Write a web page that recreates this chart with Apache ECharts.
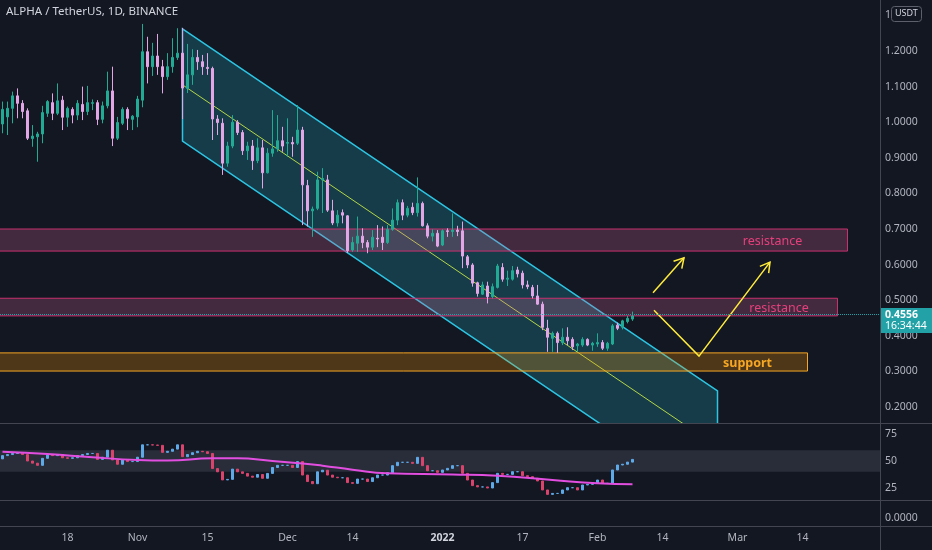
<!DOCTYPE html>
<html>
<head>
<meta charset="utf-8">
<script src="https://cdn.jsdelivr.net/npm/echarts@6/dist/echarts.min.js"></script>
<style>
html, body { margin: 0; padding: 0; background: #131722; }
#chart { width: 932px; height: 550px; }
</style>
</head>
<body>
<div id="chart"></div>
<script>
// daily candles, day 0 = 2021-10-05, one candle per day
var firstDay = 0;
var opens = [
  0.995,1.015,1.039,1.074,1.053,1.032,0.954,0.959,0.967,1.025,
  1.055,1.025,1.062,1.014,1.036,1.020,1.050,1.030,1.053,1.055,
  1.008,1.046,1.088,0.955,0.997,1.036,1.008,1.015,1.062,1.198,
  1.156,1.186,1.156,1.128,1.156,1.182,1.194,1.095,1.133,1.182,
  1.170,1.154,1.151,1.009,0.997,0.885,0.933,1.000,0.971,0.920,
  0.933,0.892,0.928,0.858,0.913,0.925,0.948,0.941,0.943,0.941,
  0.978,0.822,0.751,0.758,0.838,0.838,0.751,0.717,0.746,0.737,
  0.641,0.660,0.680,0.662,0.649,0.674,0.677,0.662,0.699,0.725,
  0.774,0.739,0.761,0.746,0.772,0.709,0.680,0.688,0.655,0.695,
  0.693,0.697,0.695,0.622,0.599,0.549,0.517,0.540,0.510,0.536,
  0.592,0.559,0.559,0.585,0.576,0.543,0.536,0.512,0.489,0.421,
  0.393,0.407,0.381,0.396,0.390,0.372,0.374,0.390,0.374,0.377,
  0.381,0.365,0.377,0.430,0.424,0.440,0.447
];
var closes = [
  1.036,1.039,1.074,1.053,1.030,0.955,0.961,0.967,1.027,1.058,
  1.025,1.060,1.014,1.039,1.020,1.053,1.030,1.055,1.055,1.008,
  1.046,1.088,0.955,0.999,1.036,1.011,1.017,1.065,1.198,1.156,
  1.186,1.156,1.128,1.156,1.182,1.194,1.096,1.133,1.182,1.170,
  1.156,1.151,1.009,0.999,0.885,0.933,1.000,0.971,0.920,0.933,
  0.892,0.928,0.858,0.913,0.925,0.948,0.933,0.943,0.939,0.978,
  0.824,0.751,0.756,0.838,0.842,0.753,0.717,0.739,0.739,0.639,
  0.662,0.680,0.662,0.649,0.677,0.672,0.662,0.699,0.725,0.774,
  0.739,0.758,0.746,0.772,0.709,0.680,0.688,0.652,0.695,0.693,
  0.697,0.693,0.624,0.599,0.548,0.519,0.543,0.510,0.538,0.596,
  0.559,0.562,0.583,0.574,0.543,0.538,0.512,0.489,0.424,0.396,
  0.407,0.381,0.396,0.386,0.369,0.377,0.390,0.374,0.379,0.381,
  0.365,0.379,0.428,0.421,0.442,0.449,0.4556
];
var lows = [
  0.969,0.964,0.997,1.011,1.011,0.950,0.931,0.889,0.941,1.015,
  1.006,1.020,0.978,0.987,0.997,1.006,1.006,1.020,1.034,0.992,
  0.997,1.039,0.933,0.950,0.992,0.978,0.978,0.986,1.042,1.109,
  1.130,1.133,1.081,1.119,1.139,1.175,1.009,1.082,1.105,1.147,
  1.133,1.133,0.950,0.964,0.852,0.875,0.927,0.964,0.908,0.894,
  0.866,0.885,0.814,0.856,0.903,0.917,0.917,0.903,0.903,0.936,
  0.711,0.707,0.678,0.753,0.745,0.748,0.711,0.707,0.716,0.633,
  0.636,0.636,0.646,0.632,0.641,0.649,0.641,0.658,0.695,0.711,
  0.725,0.733,0.739,0.735,0.707,0.674,0.665,0.649,0.652,0.678,
  0.678,0.680,0.590,0.590,0.538,0.510,0.515,0.491,0.505,0.533,
  0.552,0.540,0.555,0.564,0.533,0.531,0.505,0.487,0.416,0.355,
  0.355,0.352,0.374,0.374,0.360,0.355,0.369,0.371,0.358,0.369,
  0.360,0.358,0.374,0.416,0.418,0.435,0.442
];
var highs = [
  1.058,1.058,1.086,1.095,1.062,1.039,0.992,0.973,1.046,1.062,
  1.081,1.109,1.074,1.044,1.042,1.062,1.100,1.102,1.064,1.062,
  1.058,1.142,1.156,1.015,1.042,1.042,1.020,1.074,1.276,1.240,
  1.223,1.248,1.175,1.194,1.236,1.264,1.265,1.220,1.205,1.203,
  1.189,1.194,1.156,1.020,1.011,0.945,1.020,1.006,0.978,0.945,
  0.950,0.955,0.950,0.927,1.034,1.020,0.987,1.011,0.959,1.048,
  0.987,0.838,0.763,0.861,0.871,0.852,0.782,0.753,0.755,0.739,
  0.678,0.735,0.702,0.669,0.697,0.711,0.707,0.711,0.758,0.783,
  0.783,0.765,0.774,0.845,0.777,0.716,0.699,0.697,0.699,0.702,
  0.744,0.709,0.721,0.627,0.604,0.552,0.552,0.552,0.547,0.602,
  0.604,0.583,0.596,0.594,0.583,0.555,0.543,0.543,0.496,0.445,
  0.412,0.412,0.421,0.424,0.396,0.380,0.396,0.393,0.383,0.407,
  0.388,0.383,0.433,0.437,0.445,0.456,0.468
];

// RSI pane: closing value of each day, the bar opens at the previous close
var rsiFirstOpen = 52;
var rsiCloses = [
  55,56,57,57.5,56,50,48,46,52.5,55.5,
  55,56,53,52.5,53,55,56,57,57,51.5,
  53.5,60,51,47,51,49.5,49.5,53.5,65,65,
  64.8,64.5,58,59,61,65,54,56,57.7,59,
  58.6,57,43,40,32.5,33,42.5,40,38.5,36,
  35,37.5,34,38.5,44,46,46,46,44,49.5,
  37,31,29,40,41.5,37,35,34.5,34.5,30,
  29.3,33.3,33.3,31,34.5,37,37,39.2,45.7,48.8,
  48.8,48.8,47.8,53.4,45.7,41,41,39.5,41.7,43.2,
  45.7,45.7,38.6,32.4,27.2,26,26,25,30,38.6,
  37.6,37.6,40.1,40.1,36.4,35.5,34,31.5,23.2,19.1,
  20,20,23.2,25.3,25.3,23.2,27.8,28.4,29.3,32.4,
  29.3,29.3,41.7,46.3,47,49,51.5
];
// moving average of the RSI, read at a few days
var maDays   = [0, 9, 18, 27, 33, 42, 47, 54, 60, 64, 70, 77, 90, 99, 110, 119, 126];
var maValues = [58.6, 56.5, 53.5, 51, 50.5, 52.5, 52.5, 50, 47.8, 45.7, 42, 38.6, 37.6, 36.4, 32.4, 29.3, 28.4];
var rsiBandLow = 40, rsiBandHigh = 60;

// axis ticks
var tickDays   = [13, 27, 41, 57, 70, 88, 104, 119, 132, 147, 160];
var tickLabels = ['18', 'Nov', '15', 'Dec', '14', '2022', '17', 'Feb', '14', 'Mar', '14'];
var priceTicks = [0.2, 0.3, 0.4, 0.5, 0.6, 0.7, 0.8, 0.9, 1.0, 1.1, 1.2, 1.3];
var rsiTicks = [25, 50, 75];
var lastPrice = 0.4556;
var lastTime = '16:34:44';

// drawings: parallel channel
var chanDays = [36, 143];
var chanTop  = [1.262, 0.245];
var chanMid  = [1.105, 0.088];
var chanBot  = [0.947, -0.070];

// drawings: rectangles
var boxNames    = ['resistance', 'resistance', 'support'];
var boxFrom     = [-2, -2, -2];
var boxTo       = [169, 167, 161];
var boxHigh     = [0.700, 0.5055, 0.352];
var boxLow      = [0.638, 0.456, 0.301];
var boxLabelDay = [154, 155.3, 149];

// drawings: arrows
var arrowDays   = [[130.1, 136.3], [130.3, 139.3, 153.5]];
var arrowPrices = [[0.521, 0.619], [0.472, 0.343, 0.607]];

var FONT = "'Noto Sans', 'DejaVu Sans', sans-serif";
var boxStyles = [
  { fill: 'rgba(215,100,150,0.25)', stroke: '#c8306e', text: '#e6407c', weight: 'normal' },
  { fill: 'rgba(215,100,150,0.25)', stroke: '#c8306e', text: '#e6407c', weight: 'normal' },
  { fill: 'rgba(255,152,0,0.25)', stroke: '#f5a623', text: '#f5a623', weight: 'bold' }
];

var candleData = opens.map(function (o, i) {
  return [firstDay + i, o, closes[i], lows[i], highs[i]];
});
var rsiData = rsiCloses.map(function (c, i) {
  var o = i === 0 ? rsiFirstOpen : rsiCloses[i - 1];
  return [firstDay + i, o, c, Math.min(o, c), Math.max(o, c)];
});
var maData = maDays.map(function (d, i) { return [d, maValues[i]]; });
var boxData = boxNames.map(function (n, i) {
  return [boxFrom[i], boxTo[i], boxHigh[i], boxLow[i], boxLabelDay[i]];
});
var arrowData = arrowDays.map(function (d, i) { return [d[0], arrowPrices[i][0]]; });

function clipOf(params) {
  var cs = params.coordSys;
  return { type: 'rect', shape: { x: cs.x, y: cs.y, width: cs.width, height: cs.height } };
}

function renderChannel(params, api) {
  var t0 = api.coord([chanDays[0], chanTop[0]]), t1 = api.coord([chanDays[1], chanTop[1]]);
  var m0 = api.coord([chanDays[0], chanMid[0]]), m1 = api.coord([chanDays[1], chanMid[1]]);
  var b0 = api.coord([chanDays[0], chanBot[0]]), b1 = api.coord([chanDays[1], chanBot[1]]);
  return {
    type: 'group',
    clipPath: clipOf(params),
    children: [
      { type: 'polygon', shape: { points: [t0, t1, b1, b0] },
        style: { fill: 'rgba(38,198,218,0.22)', stroke: '#2cc5e3', lineWidth: 1.5 } },
      { type: 'line', shape: { x1: m0[0], y1: m0[1], x2: m1[0], y2: m1[1] },
        style: { stroke: '#b5d645', lineWidth: 1 } }
    ]
  };
}

function renderBox(params, api) {
  var i = params.dataIndex;
  var a = api.coord([api.value(0), api.value(2)]);
  var b = api.coord([api.value(1), api.value(3)]);
  var t = api.coord([api.value(4), (api.value(2) + api.value(3)) / 2]);
  var st = boxStyles[i];
  return {
    type: 'group',
    clipPath: clipOf(params),
    children: [
      { type: 'rect', shape: { x: a[0], y: a[1], width: b[0] - a[0], height: b[1] - a[1] },
        style: { fill: st.fill, stroke: st.stroke, lineWidth: 1 } },
      { type: 'text', x: t[0], y: t[1] + 1,
        style: { text: boxNames[i], fill: st.text, fontSize: 12.5, fontWeight: st.weight,
                 fontFamily: FONT, align: 'center', verticalAlign: 'middle' } }
    ]
  };
}

function renderArrow(params, api) {
  var i = params.dataIndex;
  var pts = arrowDays[i].map(function (d, k) { return api.coord([d, arrowPrices[i][k]]); });
  var tip = pts[pts.length - 1], prev = pts[pts.length - 2];
  var ang = Math.atan2(tip[1] - prev[1], tip[0] - prev[0]);
  var len = 11, spread = Math.PI / 6;
  var h1 = [tip[0] - len * Math.cos(ang - spread), tip[1] - len * Math.sin(ang - spread)];
  var h2 = [tip[0] - len * Math.cos(ang + spread), tip[1] - len * Math.sin(ang + spread)];
  return {
    type: 'group',
    children: [
      { type: 'polyline', shape: { points: pts }, style: { stroke: '#ffeb3b', lineWidth: 1.5, fill: null } },
      { type: 'polyline', shape: { points: [h1, tip, h2] }, style: { stroke: '#ffeb3b', lineWidth: 1.5, fill: null } }
    ]
  };
}

var labelStyle = { color: '#b2b5be', fontSize: 10.5, fontFamily: FONT };
function hiddenX(gi) {
  return { type: 'value', gridIndex: gi, min: -0.5, max: 175.5, show: false };
}

var myChart = echarts.init(document.getElementById('chart'));
var option = {
  backgroundColor: '#131722',
  animation: false,
  grid: [
    { left: 0, top: 0, width: 880, height: 423, outerBoundsMode: 'none' },
    { left: 0, top: 423, width: 880, height: 77, outerBoundsMode: 'none' },
    { left: 0, top: 500, width: 880, height: 26, outerBoundsMode: 'none' }
  ],
  xAxis: [
    hiddenX(0),
    hiddenX(1),
    {
      type: 'value', gridIndex: 2, min: -0.5, max: 175.5,
      axisLine: { show: false }, axisTick: { show: false }, splitLine: { show: false },
      axisLabel: {
        customValues: tickDays,
        margin: 7,
        color: '#b2b5be', fontSize: 10.5, fontFamily: FONT,
        formatter: function (v) {
          var k = tickDays.indexOf(v);
          var s = k >= 0 ? tickLabels[k] : '';
          return s === '2022' ? '{b|' + s + '}' : s;
        },
        rich: { b: { fontWeight: 'bold', color: '#d1d4dc', fontSize: 10.5, fontFamily: FONT } }
      }
    }
  ],
  yAxis: [
    {
      type: 'value', gridIndex: 0, position: 'right', min: 0.1551, max: 1.3433,
      axisLine: { show: false }, axisTick: { show: false }, splitLine: { show: false },
      axisLabel: Object.assign({ customValues: priceTicks, margin: 5,
        formatter: function (v) { return v.toFixed(4); } }, labelStyle)
    },
    {
      type: 'value', gridIndex: 1, position: 'right', min: 13.9, max: 85.2,
      axisLine: { show: false }, axisTick: { show: false }, splitLine: { show: false },
      axisLabel: Object.assign({ customValues: rsiTicks, margin: 5 }, labelStyle)
    },
    {
      type: 'value', gridIndex: 2, position: 'right', min: -0.3077, max: 0.6923,
      axisLine: { show: false }, axisTick: { show: false }, splitLine: { show: false },
      axisLabel: Object.assign({ customValues: [0], margin: 5,
        formatter: function (v) { return v.toFixed(4); } }, labelStyle)
    }
  ],
  series: [
    {
      type: 'custom', name: 'channel', xAxisIndex: 0, yAxisIndex: 0, z: 1,
      data: [[chanDays[0], chanTop[0]]],
      renderItem: renderChannel, silent: true
    },
    {
      type: 'custom', name: 'boxes', xAxisIndex: 0, yAxisIndex: 0, z: 1,
      data: boxData, renderItem: renderBox, silent: true
    },
    {
      type: 'candlestick', name: 'ALPHA', xAxisIndex: 0, yAxisIndex: 0, z: 3,
      data: candleData,
      encode: { x: 0, y: [1, 2, 3, 4] },
      barWidth: 3,
      itemStyle: { color: '#22ab94', color0: '#e2a6e6', borderColor: '#22ab94', borderColor0: '#e2a6e6', borderWidth: 1 },
      markLine: {
        silent: true, symbol: 'none', label: { show: false },
        lineStyle: { color: '#22a1a6', type: 'dotted', width: 1 },
        data: [{ yAxis: lastPrice }]
      }
    },
    {
      type: 'custom', name: 'arrows', xAxisIndex: 0, yAxisIndex: 0, z: 4,
      data: arrowData, renderItem: renderArrow, silent: true
    },
    {
      type: 'candlestick', name: 'RSI', xAxisIndex: 1, yAxisIndex: 1, z: 3,
      data: rsiData,
      encode: { x: 0, y: [1, 2, 3, 4] },
      barWidth: 3,
      itemStyle: { color: '#5ea9e8', color0: '#d9436c', borderColor: '#5ea9e8', borderColor0: '#d9436c', borderWidth: 1 }
    },
    {
      type: 'line', name: 'RSI MA', xAxisIndex: 1, yAxisIndex: 1, z: 4,
      data: maData, smooth: true, showSymbol: false, symbol: 'none',
      lineStyle: { color: '#e24ee0', width: 2 },
      markArea: {
        silent: true,
        itemStyle: { color: 'rgba(160,160,185,0.16)' },
        data: [[{ yAxis: rsiBandLow }, { yAxis: rsiBandHigh }]]
      }
    }
  ]
};
myChart.setOption(option);

// pane separators, title, currency tag, last price tag
var py = myChart.convertToPixel({ yAxisIndex: 0 }, lastPrice);
var sep = { stroke: '#434651', lineWidth: 1 };
myChart.setOption({
  graphic: [
    { type: 'line', shape: { x1: 0, y1: 423.5, x2: 932, y2: 423.5 }, style: sep, z: 10 },
    { type: 'line', shape: { x1: 0, y1: 500.5, x2: 932, y2: 500.5 }, style: sep, z: 10 },
    { type: 'line', shape: { x1: 0, y1: 526.5, x2: 932, y2: 526.5 }, style: sep, z: 10 },
    { type: 'line', shape: { x1: 880.5, y1: 0, x2: 880.5, y2: 550 }, style: sep, z: 10 },
    { type: 'text', left: 6, top: 6, z: 10,
      style: { text: 'ALPHA / TetherUS, 1D, BINANCE', fill: '#d1d4dc', fontSize: 11.5, fontFamily: FONT } },
    { type: 'rect', left: 891, top: 6, z: 50, zlevel: 1,
      shape: { width: 30, height: 15, r: 3 },
      style: { fill: '#131722', stroke: '#5d606b', lineWidth: 1 } },
    { type: 'text', left: 895, top: 9, z: 51, zlevel: 1,
      style: { text: 'USDT', fill: '#d1d4dc', fontSize: 9, fontFamily: FONT } },
    { type: 'rect', left: 881, top: py - 8, z: 50, zlevel: 1,
      shape: { width: 51, height: 25 }, style: { fill: '#22a1a6' } },
    { type: 'text', left: 885, top: py - 7, z: 51, zlevel: 1,
      style: { text: lastPrice.toFixed(4), fill: '#ffffff', fontSize: 10.5, fontWeight: 'bold', fontFamily: FONT } },
    { type: 'text', left: 885, top: py + 4.5, z: 51, zlevel: 1,
      style: { text: lastTime, fill: '#ffffff', fontSize: 10.5, fontFamily: FONT } }
  ]
});
window.addEventListener('resize', myChart.resize);
</script>
</body>
</html>
